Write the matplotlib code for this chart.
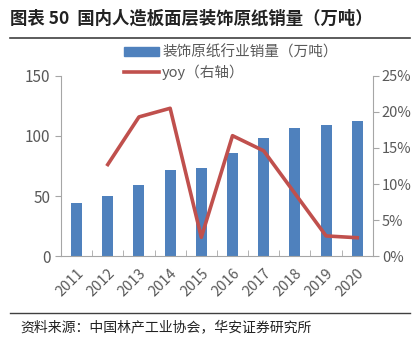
import numpy as np
import matplotlib
matplotlib.use('Agg')
import matplotlib.pyplot as plt
from matplotlib.lines import Line2D

plt.rcParams['font.family'] = ['Noto Sans CJK SC', 'DejaVu Sans']

years = ['2011', '2012', '2013', '2014', '2015', '2016', '2017', '2018', '2019', '2020']
sales = [44.2, 50.0, 59.5, 71.7, 73.7, 85.6, 98.0, 106.4, 109.5, 112.5]
yoy = [np.nan, 12.7, 19.3, 20.5, 2.6, 16.7, 14.6, 8.7, 2.8, 2.55]

bar_color = '#4F81BD'
line_color = '#C0504D'
grey = '#595959'
axis_grey = '#A6A6A6'

fig = plt.figure(figsize=(4.12, 3.37), dpi=100)
ax = fig.add_axes([0.148, 0.240, 0.757, 0.535])
ax2 = ax.twinx()

x = np.arange(len(years))
ax.bar(x, sales, width=0.35, color=bar_color, zorder=2)
ax2.plot(x, yoy, color=line_color, lw=2.6, zorder=3)

ax.set_xlim(-0.5, len(years) - 0.5)
ax.set_ylim(0, 150)
ax.set_yticks([0, 50, 100, 150])
ax2.set_ylim(0, 25)
ax2.set_yticks([0, 5, 10, 15, 20, 25])
ax2.set_yticklabels([f'{v}%' for v in [0, 5, 10, 15, 20, 25]])

ax.set_xticks(x)
ax.set_xticklabels(years, rotation=45, ha='right', rotation_mode='anchor')
ax.tick_params(axis='x', which='major', length=0, labelsize=10.5, colors=grey, pad=7)
ax.set_xticks(np.arange(-0.5, len(years) + 0.5, 1), minor=True)
ax.tick_params(axis='x', which='minor', direction='in', length=4, color=axis_grey)
ax.tick_params(axis='y', direction='out', length=4, color=axis_grey, labelsize=11, labelcolor=grey)
ax2.tick_params(axis='y', direction='out', length=4, color=axis_grey, labelsize=10.5,
                labelcolor=grey, pad=2.5)

for a in (ax, ax2):
    a.spines['top'].set_visible(False)
    for s in ('left', 'right', 'bottom'):
        a.spines[s].set_color(axis_grey)
ax.spines['right'].set_visible(False)
ax2.spines['left'].set_visible(False)
ax2.spines['bottom'].set_visible(False)

handles = [plt.Rectangle((0, 0), 1, 1, color=bar_color),
           Line2D([0], [0], color=line_color, lw=2.6)]
fig.legend(handles, ['装饰原纸行业销量（万吨）', 'yoy（右轴）'],
           loc='upper left', bbox_to_anchor=(0.27, 0.905), frameon=False,
           fontsize=10.5, handlelength=2.4, handleheight=0.6, labelspacing=0.35,
           handletextpad=0.2, labelcolor=grey)

fig.text(0.025, 0.945, '图表 50  国内人造板面层装饰原纸销量（万吨）', fontsize=12.5,
         fontweight='bold', va='center', ha='left', color='#222222')
fig.add_artist(Line2D([0.025, 0.995], [0.888, 0.888], color='#404040', lw=1.2))
fig.add_artist(Line2D([0.025, 0.995], [0.072, 0.072], color='#404040', lw=1.0))
fig.text(0.05, 0.03, '资料来源：中国林产工业协会，华安证券研究所', fontsize=10,
         va='center', ha='left', color='#222222')

fig.savefig('out.png', dpi=100)
